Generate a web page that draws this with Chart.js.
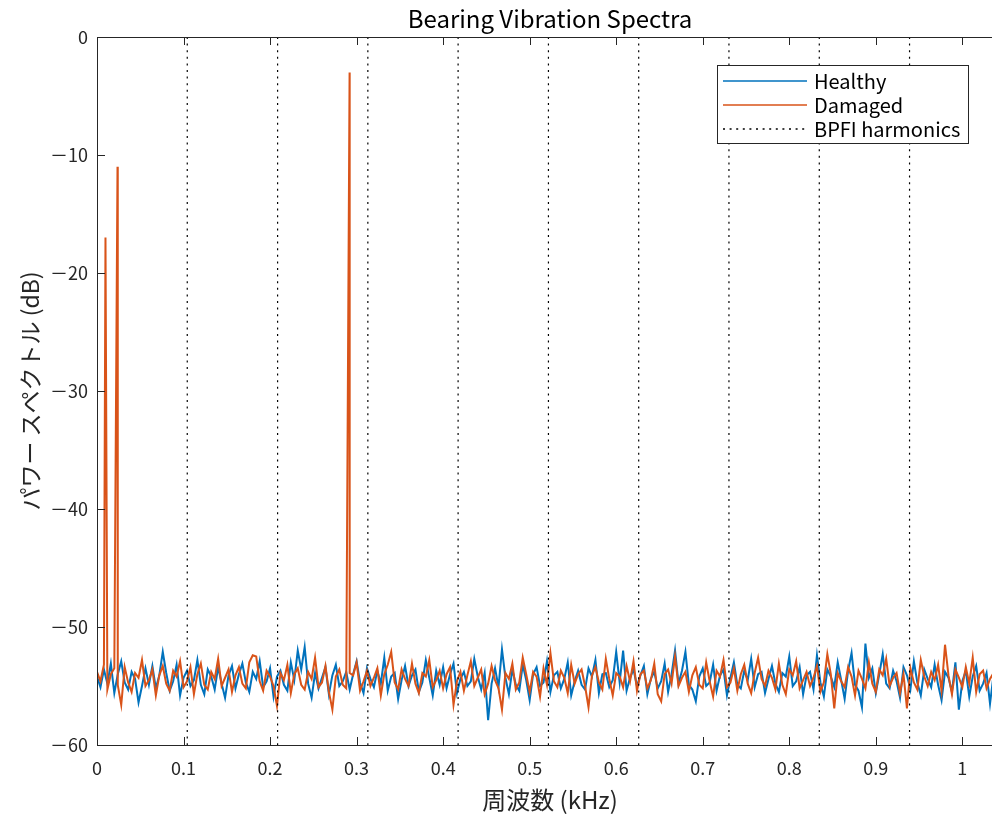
<!DOCTYPE html>
<html>
<head>
<meta charset="utf-8">
<title>Bearing Vibration Spectra</title>
<script src="https://cdn.jsdelivr.net/npm/chart.js@4.4.1/dist/chart.umd.min.js"></script>
<style>
    html, body { margin: 0; padding: 0; background: #fff; overflow: hidden; }
    #spectrumChart { display: block; }
</style>
</head>
<body>
<canvas id="spectrumChart" width="1003" height="815"></canvas>
<script>
// Bearing vibration spectra - healthy vs damaged, BPFI harmonics marked
const freqStep = 0.004;   // kHz between spectrum bins
const xMax = 1.047;
const xTicks = [0, 0.1, 0.2, 0.3, 0.4, 0.5, 0.6, 0.7, 0.8, 0.9, 1];
const yTicks = [0, -10, -20, -30, -40, -50, -60];

const healthyDb = [
    -54.2, -55.1, -53.6, -54.8, -53.1, -55.6, -54.0, -52.9, -54.7, -55.3, -53.8, -54.4, -56.4, -55.0, -53.5, -54.9, -53.3, -55.2, -54.1, -52.1,
    -53.9, -55.4, -54.6, -53.2, -55.8, -54.3, -53.7, -55.0, -54.5, -52.8, -54.9, -55.7, -53.6, -54.2, -55.3, -53.4, -54.8, -56.0, -54.1, -53.3,
    -55.2, -54.0, -53.1, -54.7, -55.5, -53.8, -54.4, -52.9, -55.1, -54.6, -53.5, -55.9, -54.2, -53.7, -54.9, -55.4, -53.0, -54.5, -52.0, -53.6,
    -51.7, -54.8, -56.0, -53.9, -55.2, -54.3, -53.4, -55.7, -54.1, -53.2, -55.0, -54.6, -53.8, -55.3, -54.0, -52.9, -54.7, -55.6, -53.5, -54.4,
    -55.1, -53.7, -54.8, -52.6, -55.4, -54.2, -53.9, -56.1, -54.5, -53.3, -55.0, -54.1, -53.6, -55.5, -54.7, -52.8, -54.3, -55.8, -53.7, -54.9,
    -53.4, -55.2, -54.0, -53.1, -55.6, -54.4, -53.8, -55.0, -54.6, -52.7, -54.2, -55.3, -53.9, -57.9, -54.8, -53.5, -55.1, -51.9, -54.3, -55.7,
    -53.6, -54.9, -55.4, -53.2, -54.5, -56.2, -54.0, -53.4, -55.0, -54.7, -52.9, -55.5, -54.1, -53.8, -55.2, -54.4, -53.0, -55.8, -54.6, -53.7,
    -54.9, -55.3, -53.5, -54.2, -52.8, -55.6, -54.0, -53.9, -55.1, -54.5, -52.1, -54.7, -52.0, -55.4, -54.3, -53.6, -55.0, -54.1, -53.3, -55.7,
    -54.4, -53.8, -55.2, -54.6, -53.1, -55.5, -54.0, -52.0, -54.8, -53.7, -52.1, -54.9, -55.3, -56.3, -54.2, -53.5, -55.0, -54.7, -53.2, -55.4,
    -54.1, -53.6, -55.8, -54.3, -53.0, -54.9, -55.2, -53.7, -54.5, -52.7, -55.1, -54.0, -53.8, -55.6, -54.4, -53.3, -54.8, -55.5, -53.9, -54.2,
    -52.5, -55.0, -54.6, -53.4, -55.7, -54.1, -53.8, -55.3, -52.4, -54.7, -55.9, -53.6, -54.2, -55.1, -53.0, -54.5, -56.1, -53.7, -52.2, -54.9,
    -55.4, -56.8, -51.4, -54.3, -53.5, -55.6, -54.0, -52.3, -54.8, -55.2, -53.7, -54.6, -56.0, -53.4, -54.1, -55.3, -52.9, -54.7, -55.8, -53.6,
    -54.4, -55.1, -53.2, -54.9, -56.2, -53.8, -54.3, -55.5, -53.0, -57.0, -54.6, -53.7, -55.9, -54.2, -53.3, -55.4, -54.8, -53.9, -56.5, -54.1,
    -53.8, -55.0, -54.3
];

const damagedDb = [
    -53.8, -54.6, -53.2, -55.3, -54.0, -53.5, -54.9, -56.6, -53.4, -54.7, -55.5, -53.9, -54.3, -52.8, -55.0, -54.5, -53.6, -55.8, -54.1, -53.3,
    -54.8, -55.4, -53.7, -54.2, -52.9, -55.1, -54.6, -53.4, -55.7, -54.0, -53.1, -54.9, -55.3, -53.8, -54.4, -52.7, -55.0, -54.3, -53.6, -55.5,
    -54.1, -53.4, -54.8, -55.2, -53.0, -52.4, -52.5, -54.6, -55.4, -53.7, -54.2, -55.0, -56.7, -53.9, -54.5, -53.2, -55.6, -54.0, -53.5, -54.9,
    -55.3, -53.8, -54.4, -52.6, -55.1, -54.7, -53.3, -55.5, -57.0, -54.2, -53.6, -54.9, -55.2, -53.9, -54.1, -53.0, -55.4, -54.6, -53.7, -55.0,
    -54.3, -53.5, -55.8, -54.0, -53.2, -52.1, -54.7, -55.3, -53.6, -54.4, -55.0, -53.1, -54.8, -55.6, -53.9, -54.2, -52.8, -55.1, -54.5, -53.7,
    -55.2, -54.0, -53.4, -56.6, -54.6, -53.8, -55.4, -54.1, -52.9, -55.0, -54.3, -53.6, -55.7, -54.8, -53.3, -54.5, -55.2, -57.0, -53.9, -54.4,
    -53.1, -55.3, -54.7, -52.6, -54.0, -55.5, -53.8, -54.2, -55.9, -53.5, -54.9, -52.2, -54.6, -55.1, -53.7, -54.3, -55.6, -53.2, -54.8, -54.0,
    -53.6, -55.0, -56.8, -54.1, -53.4, -54.7, -55.3, -52.7, -54.4, -55.8, -53.9, -54.2, -55.1, -53.3, -54.6, -52.9, -55.4, -54.0, -53.7, -55.2,
    -54.5, -53.1, -55.7, -56.3, -54.0, -53.6, -54.8, -52.5, -55.0, -54.3, -53.8, -55.5, -54.1, -53.4, -54.9, -55.2, -53.0, -54.6, -55.9, -53.7,
    -54.2, -52.8, -55.1, -54.7, -53.5, -55.4, -54.0, -53.2, -54.8, -55.6, -53.9, -52.6, -54.4, -55.0, -53.7, -54.3, -55.3, -53.1, -54.9, -55.7,
    -53.6, -54.1, -52.9, -55.2, -54.5, -53.8, -55.0, -54.3, -53.3, -55.5, -54.7, -52.3, -54.0, -56.9, -53.9, -54.6, -55.1, -53.4, -54.2, -55.8,
    -53.7, -54.4, -55.2, -53.0, -54.8, -55.5, -53.6, -54.1, -52.7, -55.0, -54.3, -53.9, -55.6, -54.0, -56.9, -53.5, -54.7, -55.3, -52.8, -54.2,
    -55.0, -53.8, -54.5, -53.2, -55.4, -51.5, -54.1, -55.7, -53.6, -54.3, -55.1, -53.4, -54.8, -52.6, -55.5, -54.0, -53.7, -55.2, -54.4, -53.9,
    -54.6, -53.5, -55.1
];

// fault tones on the damaged bearing
const peakFreq = [0.0098, 0.0237, 0.2919];
const peakDb = [-17, -11, -3];

// ball pass frequency, inner race: harmonics 0..10
const bpfiHarmonics = [0, 0.1043, 0.2087, 0.3130, 0.4173, 0.5217, 0.6260, 0.7303, 0.8347, 0.9390, 1.0433];

const FONT = '"Noto Sans CJK JP", "Noto Sans", sans-serif';
const AXIS_COLOR = '#262626';
const BLUE = '#0072BD';
const ORANGE = '#D95319';
const DOT_DASH = [2, 4.6];

function toPoints(values) {
    return values.map((v, i) => ({ x: i * freqStep, y: v }));
}

function damagedPoints() {
    const pts = toPoints(damagedDb);
    peakFreq.forEach((f, i) => pts.push({ x: f, y: peakDb[i] }));
    return pts.sort((a, b) => a.x - b.x);
}

function harmonicPoints() {
    const pts = [];
    bpfiHarmonics.forEach(h => {
        pts.push({ x: h, y: 0 }, { x: h, y: -60 }, { x: h, y: null });
    });
    return pts;
}

// MATLAB-like box, inward ticks, titles and legend
const matlabFrame = {
    id: 'matlabFrame',
    afterDraw(chart) {
        const { ctx, chartArea: a, scales: { x, y } } = chart;
        ctx.save();
        ctx.strokeStyle = AXIS_COLOR;
        ctx.lineWidth = 1;
        ctx.strokeRect(a.left + 0.5, a.top + 0.5, a.right - a.left, a.bottom - a.top);

        ctx.beginPath();
        xTicks.forEach(v => {
            const px = Math.round(x.getPixelForValue(v)) + 0.5;
            ctx.moveTo(px, a.bottom); ctx.lineTo(px, a.bottom - 8);
            ctx.moveTo(px, a.top); ctx.lineTo(px, a.top + 8);
        });
        yTicks.forEach(v => {
            const py = Math.round(y.getPixelForValue(v)) + 0.5;
            ctx.moveTo(a.left, py); ctx.lineTo(a.left + 8, py);
            ctx.moveTo(a.right, py); ctx.lineTo(a.right - 8, py);
        });
        ctx.stroke();

        const cx = (a.left + a.right) / 2;
        ctx.fillStyle = '#000';
        ctx.textAlign = 'center';
        ctx.textBaseline = 'middle';
        ctx.font = '24px ' + FONT;
        ctx.fillText('Bearing Vibration Spectra', cx, 19);

        ctx.fillStyle = AXIS_COLOR;
        ctx.fillText('周波数 (kHz)', cx, 800);

        ctx.save();
        ctx.translate(30, (a.top + a.bottom) / 2);
        ctx.rotate(-Math.PI / 2);
        ctx.font = '23px ' + FONT;
        ctx.fillText('パワー スペクトル (dB)', 0, 0);
        ctx.restore();

        // legend box
        const bx = a.right - 286, by = a.top + 28, bw = 251, bh = 78;
        ctx.fillStyle = '#fff';
        ctx.fillRect(bx, by, bw, bh);
        ctx.strokeStyle = AXIS_COLOR;
        ctx.lineWidth = 1;
        ctx.strokeRect(bx + 0.5, by + 0.5, bw, bh);

        const items = [
            { label: 'Healthy', color: BLUE, dash: [] },
            { label: 'Damaged', color: ORANGE, dash: [] },
            { label: 'BPFI harmonics', color: '#000', dash: DOT_DASH }
        ];
        ctx.font = '20px ' + FONT;
        ctx.textAlign = 'left';
        items.forEach((it, i) => {
            const ly = by + 16 + i * 24;
            ctx.beginPath();
            ctx.setLineDash(it.dash);
            ctx.strokeStyle = it.color;
            ctx.lineWidth = 1.4;
            ctx.moveTo(bx + 6, ly); ctx.lineTo(bx + 90, ly);
            ctx.stroke();
            ctx.setLineDash([]);
            ctx.fillStyle = '#000';
            ctx.fillText(it.label, bx + 97, ly);
        });
        ctx.restore();
    }
};

new Chart(document.getElementById('spectrumChart'), {
    type: 'line',
    data: {
        datasets: [
            { label: 'Healthy', data: toPoints(healthyDb), borderColor: BLUE, borderWidth: 2, pointRadius: 0, tension: 0, order: 3 },
            { label: 'Damaged', data: damagedPoints(), borderColor: ORANGE, borderWidth: 2, pointRadius: 0, tension: 0, order: 2 },
            { label: 'BPFI harmonics', data: harmonicPoints(), borderColor: '#000', borderWidth: 1.2, borderDash: DOT_DASH, pointRadius: 0, spanGaps: false, order: 1 }
        ]
    },
    options: {
        responsive: false,
        animation: false,
        devicePixelRatio: 1,
        layout: { padding: { top: 37, left: 0, right: 0, bottom: 0 } },
        font: { family: FONT },
        scales: {
            x: {
                type: 'linear', min: 0, max: xMax,
                grid: { display: false, drawTicks: false },
                border: { display: false },
                afterFit: s => { s.height = 70; },
                afterBuildTicks: s => { s.ticks = xTicks.map(v => ({ value: v })); },
                ticks: { color: AXIS_COLOR, font: { family: FONT, size: 18 }, padding: 12, maxRotation: 0, autoSkip: false,
                         callback: v => String(Math.round(v * 10) / 10) }
            },
            y: {
                min: -60, max: 0,
                grid: { display: false, drawTicks: false },
                border: { display: false },
                afterFit: s => { s.width = 97; },
                afterBuildTicks: s => { s.ticks = yTicks.map(v => ({ value: v })); },
                ticks: { color: AXIS_COLOR, font: { family: FONT, size: 18 }, padding: 9,
                         callback: v => v < 0 ? '\uFF0D' + Math.abs(v) : String(v) }
            }
        },
        plugins: { legend: { display: false }, tooltip: { enabled: false }, title: { display: false } }
    },
    plugins: [matlabFrame]
});
</script>
</body>
</html>
